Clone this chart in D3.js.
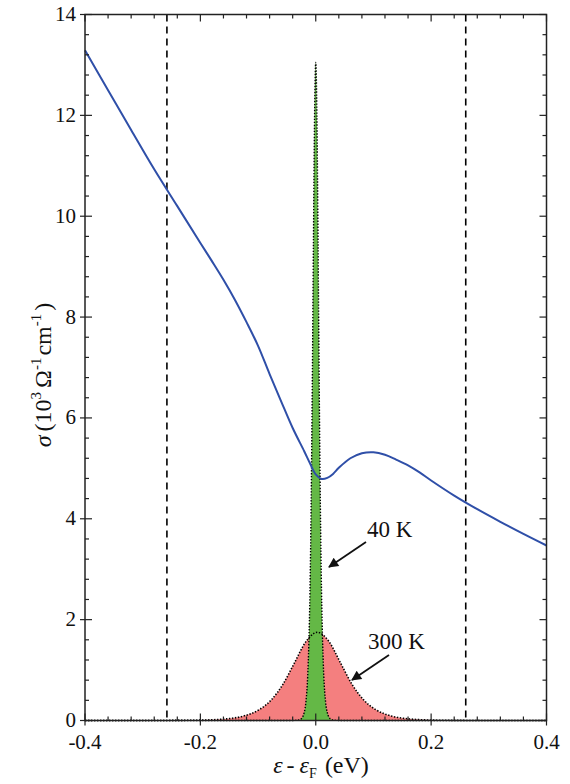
<!DOCTYPE html>
<html><head><meta charset="utf-8">
<script src="https://cdn.jsdelivr.net/npm/d3@7"></script>
<style>body{margin:0;background:#fff}svg{display:block}text{font-family:"Liberation Serif","Times New Roman",Times,serif;fill:#111}</style>
</head><body><svg id="c" width="570" height="784"></svg>
<script>
// ---- data ----
const sigmaX = [-0.40,-0.36,-0.32,-0.28,-0.24,-0.20,-0.18,-0.16,-0.14,-0.12,-0.10,-0.08,-0.06,-0.04,-0.02,-0.01,0.00,0.01,0.02,0.03,0.04,0.06,0.08,0.10,0.12,0.14,0.16,0.18,0.20,0.24,0.28,0.32,0.36,0.40];
const sigmaY = [13.29,12.50,11.71,10.93,10.20,9.47,9.11,8.74,8.34,7.90,7.43,6.87,6.33,5.80,5.34,5.10,4.88,4.79,4.81,4.89,5.01,5.20,5.30,5.32,5.27,5.17,5.06,4.92,4.76,4.46,4.19,3.94,3.70,3.47];

const f40X = [-0.40,-0.05,-0.04,-0.03,-0.025,-0.020,-0.017,-0.014,-0.012,-0.010,-0.008,-0.006,-0.004,-0.002,0.0,0.002,0.004,0.006,0.008,0.010,0.012,0.014,0.017,0.020,0.025,0.03,0.04,0.05,0.40];
const f40Y = [0,0,0.001,0.009,0.037,0.158,0.373,0.872,1.52,2.57,4.25,6.62,9.48,12.01,13.05,12.01,9.48,6.62,4.25,2.57,1.52,0.872,0.373,0.158,0.037,0.009,0.001,0,0];

const f300X = [-0.40,-0.30,-0.247,-0.197,-0.157,-0.127,-0.097,-0.077,-0.057,-0.037,-0.017,0.003,0.023,0.043,0.063,0.083,0.103,0.133,0.163,0.203,0.253,0.30,0.40];
const f300Y = [0,0,0.002,0.008,0.031,0.083,0.222,0.409,0.715,1.14,1.564,1.75,1.564,1.14,0.715,0.409,0.222,0.083,0.031,0.008,0.002,0,0];

const dashedX = [-0.258, 0.260];
const xTickLabels = ["-0.4","-0.2","0.0","0.2","0.4"];
const xTicks = [-0.4,-0.2,0.0,0.2,0.4];
const yTicks = [0,2,4,6,8,10,12,14];

// ---- layout ----
const L=85, R=546.5, T=14.5, B=720.5;
const x = d3.scaleLinear().domain([-0.4,0.4]).range([L,R]);
const y = d3.scaleLinear().domain([0,14]).range([B,T]);
const svg = d3.select("#c");

const zip = (a,b)=>a.map((v,i)=>[v,b[i]]);
const area = d3.area().x(d=>x(d[0])).y0(y(0)).y1(d=>y(d[1])).curve(d3.curveMonotoneX);
const line = d3.line().x(d=>x(d[0])).y(d=>y(d[1])).curve(d3.curveMonotoneX);

const d300 = zip(f300X,f300Y), d40 = zip(f40X,f40Y);
svg.append("path").attr("d",area(d300)).attr("fill","#f47f7f");
svg.append("path").attr("d",area(d40)).attr("fill","#64b846");
svg.append("path").attr("d",line(d300)).attr("fill","none").attr("stroke","#000").attr("stroke-width",1.6).attr("stroke-dasharray","1.4,1.6");
svg.append("path").attr("d",line(d40)).attr("fill","none").attr("stroke","#000").attr("stroke-width",1.4).attr("stroke-dasharray","1.4,1.6");

// dashed verticals
svg.selectAll(".dv").data(dashedX).join("line")
  .attr("x1",d=>x(d)).attr("x2",d=>x(d)).attr("y1",T).attr("y2",B)
  .attr("stroke","#000").attr("stroke-width",1.6).attr("stroke-dasharray","7,5");

// sigma curve
svg.append("path").attr("d",d3.line().x(d=>x(d[0])).y(d=>y(d[1])).curve(d3.curveCatmullRom)(zip(sigmaX,sigmaY)))
  .attr("fill","none").attr("stroke","#2f4fa8").attr("stroke-width",2);

// frame
svg.append("rect").attr("x",L).attr("y",T).attr("width",R-L).attr("height",B-T)
  .attr("fill","none").attr("stroke","#222").attr("stroke-width",1.5);

// ticks
const xMinor = d3.range(-0.4,0.4001,0.04);
const yMinor = d3.range(0,14.001,0.4);
const tg = svg.append("g").attr("stroke","#222").attr("stroke-width",1.2);
xMinor.forEach(v=>{
  const major = xTicks.some(t=>Math.abs(t-v)<1e-6);
  const len = major?7:4;
  tg.append("line").attr("x1",x(v)).attr("x2",x(v)).attr("y1",B+(major?5:0)).attr("y2",B-len);
  tg.append("line").attr("x1",x(v)).attr("x2",x(v)).attr("y1",T).attr("y2",T+len);
});
yMinor.forEach(v=>{
  const major = yTicks.some(t=>Math.abs(t-v)<1e-6);
  const len = major?7:4;
  tg.append("line").attr("x1",L-(major?5:0)).attr("x2",L+len).attr("y1",y(v)).attr("y2",y(v));
  tg.append("line").attr("x1",R).attr("x2",R-len).attr("y1",y(v)).attr("y2",y(v));
});

// tick labels
svg.selectAll(".xl").data(xTicks).join("text")
  .attr("x",d=>x(d)).attr("y",749).attr("text-anchor","middle").attr("font-size",21)
  .text((d,i)=>xTickLabels[i]);
svg.selectAll(".yl").data(yTicks).join("text")
  .attr("x",76).attr("y",d=>y(d)+6.5).attr("text-anchor","end").attr("font-size",21)
  .text(d=>d);

// axis titles
const xt = svg.append("text").attr("x",321).attr("y",773).attr("text-anchor","middle").attr("font-size",24);
xt.append("tspan").attr("font-style","italic").text("ε");
xt.append("tspan").attr("dx",4).text("-");
xt.append("tspan").attr("dx",5).attr("font-style","italic").text("ε");
xt.append("tspan").attr("font-size",14).attr("dy",5).text("F");
xt.append("tspan").attr("dy",-5).attr("dx",8).text("(eV)");

const yt = svg.append("text").attr("transform","translate(51,375) rotate(-90)").attr("text-anchor","middle").attr("font-size",24);
yt.append("tspan").attr("font-style","italic").text("σ");
yt.append("tspan").attr("dx",4).text("(10");
yt.append("tspan").attr("font-size",15).attr("dy",-10).text("3");
yt.append("tspan").attr("dy",10).attr("dx",4).text("Ω");
yt.append("tspan").attr("font-size",15).attr("dy",-10).text("-1");
yt.append("tspan").attr("dy",10).attr("dx",2).text("cm");
yt.append("tspan").attr("font-size",15).attr("dy",-10).text("-1");
yt.append("tspan").attr("dy",10).attr("dx",3).text(")");

// annotations
const defs = svg.append("defs");
defs.append("marker").attr("id","ah").attr("viewBox","0 0 10 10").attr("refX",9).attr("refY",5)
  .attr("markerWidth",12).attr("markerHeight",10).attr("markerUnits","userSpaceOnUse").attr("orient","auto")
  .append("path").attr("d","M0,0 L10,5 L0,10 Z").attr("fill","#111");

const annots = [
  {label:"40 K", tx:367, ty:537, x1:366, y1:542, x2:329, y2:567},
  {label:"300 K", tx:368, ty:649, x1:389, y1:655, x2:352, y2:680}
];
annots.forEach(a=>{
  svg.append("text").attr("x",a.tx).attr("y",a.ty).attr("font-size",23).text(a.label);
  svg.append("line").attr("x1",a.x1).attr("y1",a.y1).attr("x2",a.x2).attr("y2",a.y2)
    .attr("stroke","#111").attr("stroke-width",1.8).attr("marker-end","url(#ah)");
});
</script></body></html>
